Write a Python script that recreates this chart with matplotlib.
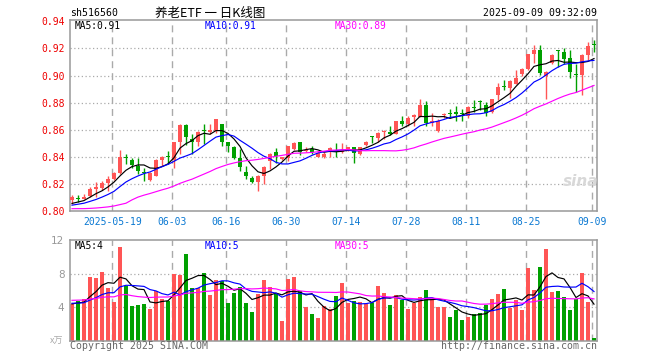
import numpy as np
import matplotlib
matplotlib.use("Agg")
import matplotlib.pyplot as plt

# ---------------- data ----------------
# trading days 2025-05-08 .. 2025-09-09 (88 bars)
tick_labels = ["2025-05-19", "06-03", "06-16", "06-30", "07-14", "07-28", "08-11", "08-25", "09-09"]
tick_index = [7, 17, 26, 36, 46, 56, 66, 76, 87]

open_ = [0.8080, 0.8095, 0.8090, 0.8111, 0.8160, 0.8173, 0.8210, 0.8235, 0.8280, 0.8392,
         0.8375, 0.8333, 0.8289, 0.8230, 0.8260, 0.8375, 0.8402, 0.8375, 0.8506, 0.8637,
         0.8531, 0.8511, 0.8595, 0.8580, 0.8593, 0.8642, 0.8506, 0.8469, 0.8388, 0.8289,
         0.8242, 0.8215, 0.8259, 0.8370, 0.8432, 0.8383, 0.8388, 0.8457, 0.8511, 0.8440,
         0.8457, 0.8400, 0.8400, 0.8440, 0.8437, 0.8432, 0.8460, 0.8470, 0.8424, 0.8489,
         0.8550, 0.8537, 0.8585, 0.8586, 0.8569, 0.8665, 0.8641, 0.8694, 0.8697, 0.8786,
         0.8653, 0.8593, 0.8706, 0.8722, 0.8730, 0.8722, 0.8700, 0.8765, 0.8805, 0.8783,
         0.8734, 0.8856, 0.8914, 0.8910, 0.8941, 0.9010, 0.9051, 0.9156, 0.9185, 0.8995,
         0.9093, 0.9180, 0.9173, 0.9132, 0.9015, 0.9002, 0.9154, 0.9229]
high = [0.8115, 0.8116, 0.8123, 0.8180, 0.8215, 0.8225, 0.8260, 0.8290, 0.8450, 0.8420,
        0.8388, 0.8388, 0.8321, 0.8289, 0.8382, 0.8405, 0.8442, 0.8510, 0.8642, 0.8642,
        0.8568, 0.8593, 0.8642, 0.8642, 0.8680, 0.8645, 0.8512, 0.8478, 0.8457, 0.8333,
        0.8259, 0.8264, 0.8333, 0.8425, 0.8462, 0.8398, 0.8482, 0.8511, 0.8513, 0.8470,
        0.8477, 0.8445, 0.8435, 0.8475, 0.8500, 0.8500, 0.8475, 0.8474, 0.8474, 0.8516,
        0.8557, 0.8582, 0.8597, 0.8624, 0.8668, 0.8700, 0.8698, 0.8715, 0.8825, 0.8810,
        0.8720, 0.8679, 0.8724, 0.8750, 0.8773, 0.8750, 0.8775, 0.8820, 0.8822, 0.8808,
        0.8830, 0.8946, 0.8966, 0.8966, 0.9039, 0.9057, 0.9161, 0.9222, 0.9229, 0.9030,
        0.9161, 0.9188, 0.9205, 0.9185, 0.9088, 0.9161, 0.9251, 0.9259]
low = [0.8050, 0.8067, 0.8085, 0.8100, 0.8100, 0.8153, 0.8150, 0.8228, 0.8272, 0.8346,
       0.8314, 0.8272, 0.8222, 0.8225, 0.8255, 0.8331, 0.8350, 0.8320, 0.8420, 0.8487,
       0.8420, 0.8480, 0.8494, 0.8568, 0.8575, 0.8481, 0.8432, 0.8383, 0.8296, 0.8235,
       0.8205, 0.8148, 0.8198, 0.8309, 0.8358, 0.8373, 0.8370, 0.8450, 0.8412, 0.8432,
       0.8420, 0.8395, 0.8390, 0.8395, 0.8400, 0.8425, 0.8445, 0.8352, 0.8415, 0.8480,
       0.8504, 0.8508, 0.8530, 0.8560, 0.8566, 0.8630, 0.8630, 0.8625, 0.8692, 0.8624,
       0.8624, 0.8580, 0.8690, 0.8689, 0.8665, 0.8665, 0.8690, 0.8734, 0.8746, 0.8698,
       0.8724, 0.8820, 0.8890, 0.8832, 0.8935, 0.9000, 0.9040, 0.9093, 0.9002, 0.8829,
       0.9088, 0.9063, 0.9088, 0.8985, 0.8880, 0.8856, 0.9112, 0.9173]
close = [0.8100, 0.8091, 0.8104, 0.8165, 0.8180, 0.8205, 0.8235, 0.8280, 0.8395, 0.8388,
         0.8341, 0.8296, 0.8279, 0.8284, 0.8375, 0.8402, 0.8400, 0.8506, 0.8637, 0.8543,
         0.8511, 0.8585, 0.8593, 0.8600, 0.8679, 0.8511, 0.8481, 0.8388, 0.8326, 0.8259,
         0.8215, 0.8259, 0.8326, 0.8420, 0.8407, 0.8395, 0.8477, 0.8505, 0.8437, 0.8452,
         0.8432, 0.8430, 0.8420, 0.8468, 0.8435, 0.8452, 0.8470, 0.8426, 0.8470, 0.8513,
         0.8547, 0.8577, 0.8593, 0.8566, 0.8664, 0.8641, 0.8690, 0.8711, 0.8786, 0.8653,
         0.8663, 0.8665, 0.8719, 0.8719, 0.8713, 0.8716, 0.8766, 0.8763, 0.8802, 0.8727,
         0.8824, 0.8917, 0.8912, 0.8961, 0.8985, 0.9051, 0.9156, 0.9185, 0.9020, 0.9024,
         0.9149, 0.9178, 0.9120, 0.9027, 0.9002, 0.9154, 0.9217, 0.9227]
volume = [4.35, 4.77, 4.97, 7.60, 7.48, 8.20, 6.28, 4.63, 11.20, 6.46,
          4.13, 4.25, 4.37, 3.80, 5.90, 4.97, 4.67, 7.98, 7.86, 10.35,
          6.30, 6.27, 8.08, 5.45, 7.24, 7.10, 4.51, 5.70, 6.37, 4.49,
          3.42, 5.57, 7.24, 6.39, 5.70, 2.36, 7.34, 7.60, 5.88, 4.01,
          3.18, 2.70, 4.15, 3.76, 5.34, 6.82, 4.46, 4.70, 4.62, 4.30,
          4.46, 6.54, 5.70, 4.26, 5.46, 4.78, 3.78, 4.46, 5.22, 6.06,
          4.90, 4.02, 4.02, 2.82, 3.70, 2.46, 2.82, 3.22, 3.34, 4.18,
          4.90, 5.58, 6.18, 3.90, 4.86, 3.62, 8.70, 6.06, 8.82, 10.98,
          5.82, 5.94, 5.22, 3.70, 4.98, 8.10, 4.62, 0.30]

# 29 sessions before the window (2025-03-24 .. 2025-05-07), estimated from
# where the moving-average lines start; used only to seed the MAs
pre_close = [0.808, 0.810, 0.811, 0.810, 0.809, 0.810, 0.808, 0.809, 0.808,
             0.760, 0.768,
             0.785, 0.792, 0.797, 0.800, 0.803, 0.802, 0.805, 0.806, 0.807,
             0.802, 0.803, 0.803, 0.804, 0.803, 0.804, 0.805, 0.804, 0.805]
pre_volume = [4.2, 4.6, 4.4, 4.8, 4.3, 4.5, 4.7, 4.4, 4.8,
              8.5, 7.5,
              6.2, 5.1, 4.8, 4.4, 4.6, 4.3, 4.5, 4.2, 4.7,
              4.6, 4.5, 4.4, 4.7, 4.4, 4.2, 4.5, 4.3, 4.5]

ma_periods = [5, 10, 30]
ma_colors = ["#000000", "#0000ff", "#ff00ff"]
price_ma_text = ["MA5:0.91", "MA10:0.91", "MA30:0.89"]
vol_ma_text = ["MA5:4", "MA10:5", "MA30:5"]

title_code = "sh516560"
title_text = "养老ETF 一 日K线图"
timestamp = "2025-09-09 09:32:09"

# ---------------- helpers ----------------
def sma(x, n):
    c = np.cumsum(np.insert(np.asarray(x, float), 0, 0.0))
    return (c[n:] - c[:-n]) / n

N = len(close)
idx = np.arange(N)
o = np.array(open_); h = np.array(high); l = np.array(low); c = np.array(close)
v = np.array(volume)
up = c > o
RED = "#ff5555"
GREEN = "#00a000"
cols = np.where(up, RED, GREEN)

W, H = 660, 360
fig = plt.figure(figsize=(W / 100, H / 100), dpi=100)
fig.patch.set_facecolor("white")

L, R = 70, 597
ax1 = fig.add_axes([L / W, (H - 211) / H, (R - L) / W, 191 / H])
ax2 = fig.add_axes([L / W, (H - 340.5) / H, (R - L) / W, 100.5 / H])

mono = "DejaVu Sans Mono"
GRID = "#aaaaaa"
SPINE = "#999999"

for ax in (ax1, ax2):
    ax.set_xlim(-0.33, 87.5)
    for s in ax.spines.values():
        s.set_color(SPINE)
        s.set_linewidth(1.1)
    ax.tick_params(length=0)
    for t in tick_index:
        ax.axvline(t - 0.25, color=GRID, lw=1.0, ls=(0, (5, 3.6)), zorder=0)

# ---------------- price panel ----------------
ax1.set_ylim(0.80, 0.941)
yt = [0.80, 0.82, 0.84, 0.86, 0.88, 0.90, 0.92, 0.94]
for y in yt[1:-1]:
    ax1.axhline(y, color=GRID, lw=0.9, ls=(0, (1, 2)), zorder=0)
ax1.set_yticks(yt)
ax1.set_yticklabels([f"{y:.2f}" for y in yt], family=mono, fontsize=7, color="#ee0000")
ax1.tick_params(axis="y", pad=4)
ax1.set_xticks([t - 0.25 for t in tick_index])
ax1.set_xticklabels(tick_labels, family=mono, fontsize=7, color="#0a78d2")
ax1.tick_params(axis="x", pad=4)

ax1.vlines(idx, l, h, colors=cols, lw=1.0, zorder=2)
body = np.maximum(np.abs(c - o), 0.0008)
ax1.bar(idx, body, bottom=np.minimum(o, c), width=0.8, color=cols, lw=0, zorder=3)

full_c = np.array(pre_close + close)
for n, col in zip(ma_periods, ma_colors):
    ax1.plot(idx, sma(full_c, n)[-N:], color=col, lw=0.85, zorder=4)

for txt, col, xp in zip(price_ma_text, ma_colors, [75, 205, 335]):
    fig.text(xp / W, 1 - 26 / H, txt, color=col, family=mono, fontsize=6.9, va="center", ha="left")

# ---------------- volume panel ----------------
ax2.set_ylim(0, 12)
for y in [4, 8]:
    ax2.axhline(y, color=GRID, lw=0.9, ls=(0, (1, 2)), zorder=0)
ax2.set_yticks([4, 8, 12])
ax2.set_yticklabels(["4", "8", "12"], fontsize=7.5, color="#999999")
ax2.tick_params(axis="y", pad=4)
ax2.set_xticks([])
ax2.bar(idx, v, width=0.8, color=cols, lw=0, zorder=2)
full_v = np.array(pre_volume + volume)
for n, col in zip(ma_periods, ma_colors):
    ax2.plot(idx, sma(full_v, n)[-N:], color=col, lw=0.85, zorder=4)

for txt, col, xp in zip(vol_ma_text, ma_colors, [75, 205, 335]):
    fig.text(xp / W, 1 - 246 / H, txt, color=col, family=mono, fontsize=6.9, va="center", ha="left")

# ---------------- header / footer texts ----------------
fig.text(70 / W, 1 - 13 / H, title_code, family=mono, fontsize=7.1, va="center", ha="left")
fig.text(210 / W, 1 - 13 / H, title_text, family=["Noto Sans CJK SC", "DejaVu Sans"],
         fontsize=9, va="center", ha="center")
fig.text(597 / W, 1 - 13 / H, timestamp, family=mono, fontsize=7.1, va="center", ha="right")

fig.text(70 / W, 1 - 346 / H, "Copyright 2025 SINA.COM", family=mono, fontsize=7.1,
         color="#666666", va="center", ha="left")
fig.text(597 / W, 1 - 346 / H, "http://finance.sina.com.cn", family=mono, fontsize=7.1,
         color="#666666", va="center", ha="right")
fig.text(57 / W, 1 - 341 / H, "x万", family=["Noto Sans CJK SC", "DejaVu Sans"], fontsize=6.5,
         color="#aaaaaa", va="center", ha="center")
fig.text(581 / W, 1 - 181 / H, "sina", fontsize=11, style="italic", weight="bold",
         color="#d8d8d8", va="center", ha="center", zorder=0)

fig.savefig("out.png", dpi=100, facecolor="white")
